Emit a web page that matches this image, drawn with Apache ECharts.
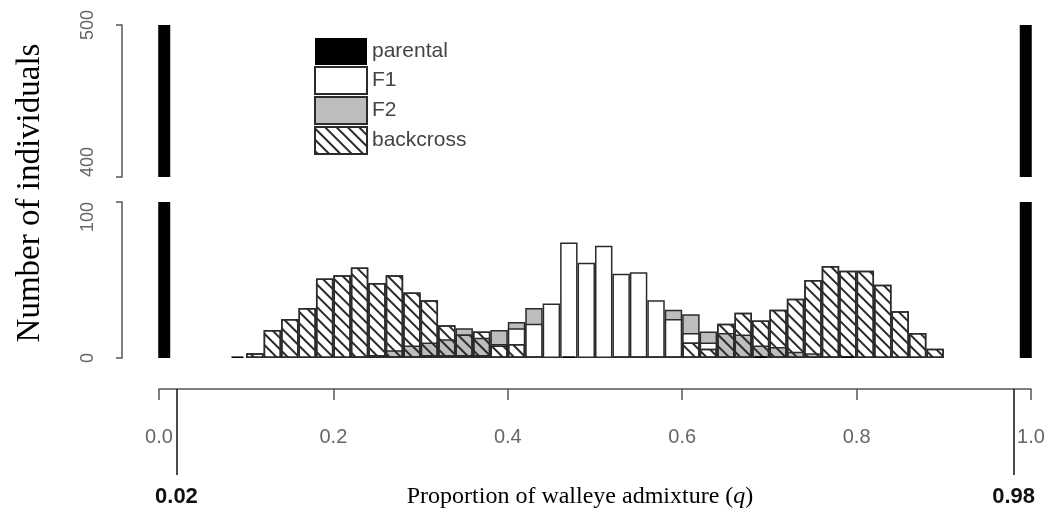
<!DOCTYPE html>
<html>
<head>
<meta charset="utf-8">
<script src="https://cdn.jsdelivr.net/npm/echarts@6/dist/echarts.min.js"></script>
<style>
  html, body { margin: 0; padding: 0; background: #fff; }
  #chart { width: 1052px; height: 518px; }
</style>
</head>
<body>
<div id="chart"></div>
<script>
  // histogram bins (width 0.02), midpoints
  var binMids = [0.09, 0.11, 0.13, 0.15, 0.17, 0.19, 0.21, 0.23, 0.25, 0.27,
    0.29, 0.31, 0.33, 0.35, 0.37, 0.39, 0.41, 0.43, 0.45, 0.47,
    0.49, 0.51, 0.53, 0.55, 0.57, 0.59, 0.61, 0.63, 0.65, 0.67,
    0.69, 0.71, 0.73, 0.75, 0.77, 0.79, 0.81, 0.83, 0.85, 0.87, 0.89]
  var backcross = [0, 3, 18, 25, 32, 51, 53, 58, 48, 53,
    42, 37, 21, 15, 17, 8, 9, 1, 0, 0,
    0, 0, 1, 1, 1, 1, 10, 6, 22, 29,
    24, 31, 38, 50, 59, 56, 56, 47, 30, 16, 6]
  var f1 = [0, 0, 0, 0, 0, 0, 0, 0, 0, 1,
    1, 2, 2, 2, 2, 9, 19, 22, 35, 74,
    61, 72, 54, 55, 37, 25, 16, 10, 0, 0,
    0, 0, 0, 0, 0, 0, 0, 0, 0, 0, 0]
  var f2 = [0, 0, 0, 0, 0, 0, 0, 1, 2, 5,
    8, 10, 12, 19, 13, 18, 23, 32, 0, 0,
    0, 0, 0, 0, 0, 31, 28, 17, 16, 15,
    8, 7, 4, 3, 1, 0, 0, 0, 0, 0, 0]
  // parental individuals (q, count)
  var parentalQ = [0.006, 0.09, 0.47, 0.69, 0.79, 0.994]
  var parentalN = [500, 1, 1, 1, 1, 500]
  var cutoffs = [0.02, 0.98]

  function pairs (xs, ys) {
    return xs.map(function (x, i) { return [x, ys[i]] }).filter(function (d) { return d[1] > 0 })
  }

  var chart = echarts.init(document.getElementById('chart'))
  var gridLeft = 159
  var gridWidth = 872
  var binPx = gridWidth * 0.02
  var edge = '#2b2b2b'
  var axisGray = '#555'
  var labelGray = '#666'

  function yAxisStyle (alignMin, alignMax) {
    return {
      type: 'value',
      offset: 37,
      splitLine: { show: false },
      axisLine: { show: true, onZero: false, lineStyle: { color: axisGray, width: 1.5 } },
      axisTick: { show: true, length: 6, lineStyle: { color: axisGray, width: 1.5 } },
      axisLabel: {
        rotate: 90, margin: 25, color: labelGray, fontSize: 18, fontFamily: 'Liberation Sans',
        alignMinLabel: alignMin, alignMaxLabel: alignMax
      }
    }
  }

  var barBase = {
    type: 'bar',
    xAxisIndex: 1,
    yAxisIndex: 1,
    barWidth: binPx,
    barGap: '-100%'
  }

  chart.setOption({
    animation: false,
    grid: [
      { left: gridLeft, width: gridWidth, top: 25, height: 152 },
      { left: gridLeft, width: gridWidth, top: 202, height: 156 },
      { left: gridLeft, width: gridWidth, top: 389, height: 86 }
    ],
    xAxis: [
      { gridIndex: 0, type: 'value', min: 0, max: 1, show: false },
      {
        gridIndex: 1, type: 'value', min: 0, max: 1, interval: 0.2, offset: 31,
        splitLine: { show: false },
        axisLine: { show: true, onZero: false, lineStyle: { color: axisGray, width: 1.5 } },
        axisTick: { show: true, length: 11, lineStyle: { color: axisGray, width: 1.5 } },
        axisLabel: {
          margin: 38, color: labelGray, fontSize: 20, fontFamily: 'Liberation Sans',
          showMinLabel: true, showMaxLabel: true,
          formatter: function (v) { return v.toFixed(1) }
        }
      },
      { gridIndex: 1, type: 'value', min: 0, max: 1, show: false },
      { gridIndex: 2, type: 'value', min: 0, max: 1, show: false }
    ],
    yAxis: [
      Object.assign({ gridIndex: 0, min: 400, max: 500, interval: 100 }, yAxisStyle('left', 'center')),
      Object.assign({ gridIndex: 1, min: 0, max: 100, interval: 100 }, yAxisStyle('center', 'right')),
      { gridIndex: 2, type: 'value', min: 0, max: 1, show: false }
    ],
    legend: {
      data: ['parental', 'F1', 'F2', 'backcross'],
      orient: 'vertical',
      left: 314,
      top: 38,
      padding: 0,
      itemWidth: 52,
      itemHeight: 27,
      itemGap: 1,
      icon: 'rect',
      selectedMode: false,
      textStyle: { fontSize: 21, color: '#444', fontFamily: 'Liberation Sans' }
    },
    series: [
      Object.assign({
        name: 'F2',
        data: pairs(binMids, f2),
        itemStyle: { color: '#bdbdbd', borderColor: edge, borderWidth: 1.5 }
      }, barBase),
      Object.assign({
        name: 'F1',
        data: pairs(binMids, f1),
        itemStyle: { color: '#ffffff', borderColor: edge, borderWidth: 1.5 }
      }, barBase),
      Object.assign({
        name: 'backcross',
        data: pairs(binMids, backcross),
        itemStyle: {
          color: 'rgba(255,255,255,0)',
          borderColor: edge,
          borderWidth: 1.5,
          decal: {
            symbol: 'rect',
            symbolSize: 1,
            dashArrayX: [1, 0],
            dashArrayY: [1.6, 5.5],
            rotation: Math.PI / 4,
            color: '#2a2a2a'
          }
        }
      }, barBase),
      {
        name: 'parental',
        type: 'bar',
        xAxisIndex: 2,
        yAxisIndex: 1,
        barWidth: 12,
        data: pairs(parentalQ, parentalN),
        itemStyle: { color: '#000' }
      },
      {
        name: 'parental',
        type: 'bar',
        xAxisIndex: 0,
        yAxisIndex: 0,
        barWidth: 12,
        data: pairs(parentalQ, parentalN),
        itemStyle: { color: '#000' }
      },
      {
        type: 'scatter',
        xAxisIndex: 3,
        yAxisIndex: 2,
        data: [],
        silent: true,
        markLine: {
          symbol: 'none',
          silent: true,
          animation: false,
          lineStyle: { color: '#111', width: 1.5, type: 'solid' },
          label: {
            position: 'start',
            distance: 11,
            fontWeight: 'bold',
            fontSize: 22,
            fontFamily: 'Liberation Sans',
            color: '#111',
            formatter: function (p) { return p.value.toFixed(2) }
          },
          data: cutoffs.map(function (c) { return { xAxis: c } })
        }
      }
    ],
    graphic: [
      {
        type: 'text',
        x: 30,
        y: 193,
        rotation: Math.PI / 2,
        style: {
          text: 'Number of individuals',
          font: '33px "Liberation Serif"',
          fill: '#000',
          align: 'center',
          verticalAlign: 'middle'
        }
      },
      {
        type: 'text',
        x: 580,
        y: 497,
        style: {
          text: 'Proportion of walleye admixture ({q|q})',
          font: '24px "Liberation Serif"',
          fill: '#000',
          align: 'center',
          verticalAlign: 'middle',
          rich: {
            q: { fontStyle: 'italic', fontSize: 24, fontFamily: 'Liberation Serif', fill: '#000' }
          }
        }
      }
    ]
  })
</script>
</body>
</html>
